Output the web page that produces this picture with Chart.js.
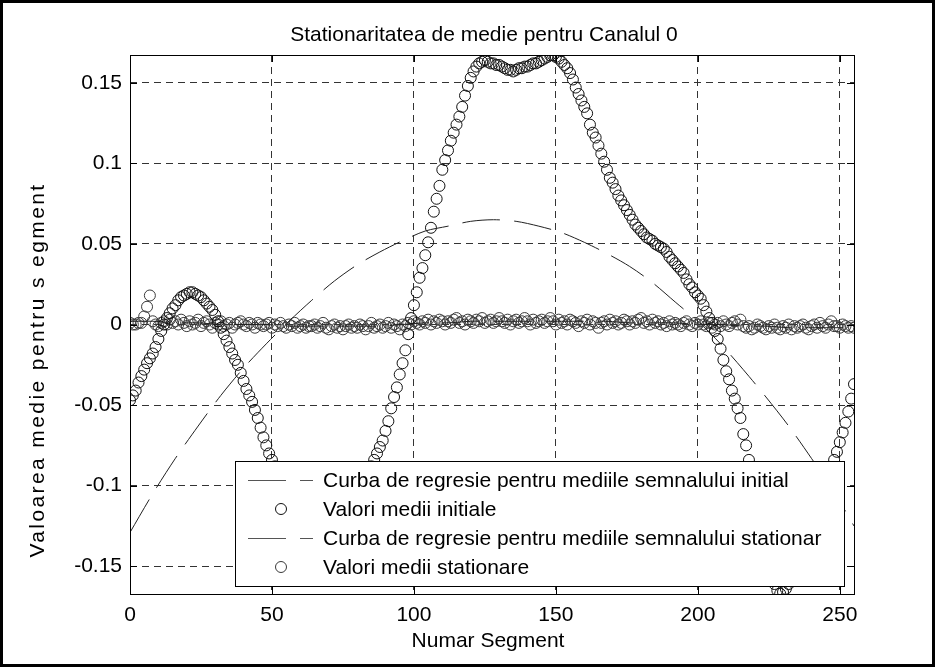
<!DOCTYPE html>
<html>
<head>
<meta charset="utf-8">
<script src="https://cdn.jsdelivr.net/npm/chart.js@4.4.0/dist/chart.umd.min.js"></script>
<style>
  html, body { margin: 0; padding: 0; background: #fff; }
  #c { display: block; }
</style>
</head>
<body>
<canvas id="c" width="935" height="667"></canvas>
<script>
// Mean value per segment (0..255)
const initialMeans = [
  -0.047,-0.044,-0.041,-0.036,-0.032,-0.028,-0.024,-0.021,-0.018,-0.014,-0.009,-0.004, 0.000, 0.004, 0.007, 0.010,
   0.012, 0.015, 0.017, 0.018, 0.019, 0.020, 0.020, 0.019, 0.018, 0.017, 0.015, 0.013, 0.011, 0.009, 0.006, 0.002,
  -0.002,-0.006,-0.010,-0.014,-0.018,-0.022,-0.025,-0.030,-0.035,-0.040,-0.044,-0.048,-0.053,-0.058,-0.064,-0.070,
  -0.075,-0.080,-0.084,-0.088,-0.092,-0.096,-0.100,-0.104,-0.108,-0.112,-0.115,-0.119,-0.122,-0.125,-0.128,-0.130,
  -0.132,-0.134,-0.136,-0.137,-0.138,-0.139,-0.139,-0.138,-0.137,-0.135,-0.133,-0.130,-0.127,-0.124,-0.120,-0.116,
  -0.112,-0.107,-0.102,-0.097,-0.092,-0.088,-0.084,-0.080,-0.076,-0.072,-0.066,-0.060,-0.052,-0.045,-0.039,-0.031,
  -0.024,-0.016,-0.006, 0.004, 0.012, 0.020, 0.029, 0.035, 0.043, 0.051, 0.060, 0.070, 0.078, 0.086, 0.096, 0.102,
   0.108, 0.114, 0.119, 0.124, 0.129, 0.135, 0.142, 0.148, 0.153, 0.157, 0.160, 0.162, 0.163, 0.164, 0.163, 0.162,
   0.162, 0.161, 0.161, 0.160, 0.159, 0.158, 0.158, 0.157, 0.158, 0.159, 0.159, 0.160, 0.160, 0.161, 0.162, 0.162,
   0.163, 0.164, 0.165, 0.166, 0.167, 0.167, 0.166, 0.165, 0.163, 0.161, 0.159, 0.156, 0.152, 0.147, 0.143, 0.139,
   0.135, 0.131, 0.124, 0.119, 0.116, 0.111, 0.106, 0.101, 0.096, 0.091, 0.088, 0.084, 0.080, 0.077, 0.074, 0.071,
   0.068, 0.065, 0.062, 0.060, 0.058, 0.056, 0.054, 0.053, 0.052, 0.050, 0.049, 0.048, 0.047, 0.045, 0.042, 0.040,
   0.038, 0.036, 0.034, 0.032, 0.028, 0.025, 0.023, 0.020, 0.018, 0.016, 0.012, 0.008, 0.004, 0.001,-0.004,-0.009,
  -0.015,-0.022,-0.029,-0.034,-0.041,-0.046,-0.052,-0.058,-0.068,-0.075,-0.084,-0.093,-0.102,-0.111,-0.120,-0.129,
  -0.138,-0.147,-0.155,-0.161,-0.165,-0.167,-0.166,-0.164,-0.161,-0.158,-0.154,-0.149,-0.144,-0.139,-0.134,-0.129,
  -0.124,-0.119,-0.114,-0.109,-0.104,-0.099,-0.094,-0.089,-0.084,-0.079,-0.073,-0.067,-0.061,-0.054,-0.046,-0.037
];

const stationaryMeans = [
   0.001, 0.000, 0.000, 0.001, 0.001, 0.005, 0.011, 0.018, 0.002, 0.000,-0.001, 0.001, 0.002, 0.000, 0.003, 0.001,
   0.002, 0.000, 0.003, 0.001,-0.001, 0.002, 0.000, 0.001, 0.003,-0.001, 0.001, 0.002, 0.000,-0.002, 0.001, 0.000,
   0.002,-0.001, 0.000, 0.001,-0.002, 0.000, 0.001, 0.002, 0.000,-0.001, 0.001, 0.000,-0.002, 0.001, 0.000,-0.001,
   0.000, 0.001,-0.002, 0.000,-0.001, 0.001,-0.001,-0.002, 0.000,-0.001, 0.001,-0.002,-0.001, 0.000,-0.002,-0.001,
  -0.001, 0.000,-0.002,-0.001, 0.001,-0.002,-0.003,-0.001, 0.000,-0.002,-0.001,-0.003,-0.001, 0.000,-0.002,-0.001,
  -0.002, 0.000,-0.001,-0.003,-0.001, 0.001,-0.002,-0.001, 0.000,-0.002,-0.001, 0.001,-0.002, 0.000,-0.001,-0.003,
   0.000,-0.001, 0.001, 0.000, 0.002, 0.001, 0.000, 0.002, 0.001, 0.003, 0.000, 0.002, 0.001, 0.003, 0.002, 0.000,
   0.002, 0.001, 0.003, 0.004, 0.001, 0.002, 0.000, 0.003, 0.002, 0.001, 0.003, 0.002, 0.004, 0.001, 0.002, 0.003,
   0.001, 0.002, 0.004, 0.002, 0.001, 0.003, 0.000, 0.002, 0.003, 0.001, 0.002, 0.004, 0.002, 0.000, 0.003, 0.001,
   0.002, 0.003, 0.001, 0.002, 0.004, 0.002, 0.000, 0.003, 0.001, 0.002, 0.000, 0.003, 0.002, 0.001,-0.001, 0.002,
   0.001, 0.003, 0.000, 0.002, 0.001,-0.002, 0.001, 0.002, 0.000, 0.003, 0.001, 0.002, 0.000, 0.001, 0.003, 0.002,
   0.000, 0.002, 0.001, 0.003, 0.004, 0.001, 0.002, 0.000, 0.003, 0.001, 0.002, 0.000, 0.001,-0.001, 0.002, 0.000,
   0.001, 0.000,-0.001, 0.001, 0.002, 0.000,-0.001, 0.001, 0.000, 0.002, 0.000,-0.001, 0.001,-0.002, 0.000, 0.001,
  -0.001, 0.002, 0.000,-0.001, 0.001, 0.002, 0.000, 0.003,-0.001,-0.002,-0.001,-0.003,-0.002, 0.000,-0.001,-0.002,
  -0.003,-0.001,-0.002, 0.000,-0.002,-0.003,-0.001,-0.002, 0.000,-0.003,-0.001,-0.002,-0.001, 0.000,-0.002,-0.003,
  -0.001, 0.000,-0.002, 0.001,-0.001,-0.002, 0.000, 0.002,-0.001,-0.001,-0.002, 0.000,-0.001,-0.002,-0.001,-0.002
];

// regression curves, sampled along the x axis
const regX = [0, 8, 16, 24, 32, 40, 48, 56, 64, 72, 80, 88, 96, 104, 112, 120, 128,
              136, 144, 152, 160, 168, 176, 184, 192, 200, 208, 216, 224, 232, 240, 248, 255];
const regInitial = [-0.129, -0.105, -0.083, -0.063, -0.044, -0.027, -0.012, 0.002, 0.015, 0.027, 0.037,
                    0.045, 0.052, 0.058, 0.061, 0.064, 0.065, 0.064, 0.061, 0.057, 0.051, 0.044, 0.036,
                    0.026, 0.014, 0.002, -0.012, -0.028, -0.045, -0.063, -0.083, -0.104, -0.125];
const regStationary = [0.002, 0.002, 0.001, 0.001, 0.000, 0.000, 0.000, -0.001, -0.001, -0.001, -0.001,
                       -0.001, 0.000, 0.001, 0.001, 0.002, 0.002, 0.002, 0.002, 0.002, 0.002, 0.002, 0.001,
                       0.001, 0.001, 0.000, 0.000, -0.001, -0.001, -0.002, -0.002, -0.002, -0.002];

const xTicks = [0, 50, 100, 150, 200, 250];
const yTicks = [-0.15, -0.1, -0.05, 0, 0.05, 0.1, 0.15];

const labels = [
  'Curba de regresie pentru mediile semnalului initial',
  'Valori medii initiale',
  'Curba de regresie pentru mediile semnalului stationar',
  'Valori medii stationare'
];

const FONT = "'Liberation Sans', Arial, sans-serif";
const DASH = [38, 14];

function pts(xs, ys) { return ys.map((v, i) => ({ x: xs ? xs[i] : i, y: v })); }

const decor = {
  id: 'decor',
  beforeDraw(chart) {
    const ctx = chart.ctx;
    ctx.save();
    ctx.fillStyle = '#fff';
    ctx.fillRect(0, 0, chart.width, chart.height);
    ctx.restore();
  },
  afterDatasetsDraw(chart) {
    const { ctx, chartArea: a, scales: { x, y } } = chart;
    ctx.save();
    ctx.setLineDash([]);
    ctx.strokeStyle = '#000';
    ctx.lineWidth = 1;

    // inward tick marks on all four sides
    const TL = 7;
    ctx.beginPath();
    xTicks.forEach(v => {
      const px = Math.round(x.getPixelForValue(v)) + 0.5;
      ctx.moveTo(px, a.bottom); ctx.lineTo(px, a.bottom - TL);
      ctx.moveTo(px, a.top); ctx.lineTo(px, a.top + TL);
    });
    yTicks.forEach(v => {
      const py = Math.round(y.getPixelForValue(v)) + 0.5;
      ctx.moveTo(a.left, py); ctx.lineTo(a.left + TL, py);
      ctx.moveTo(a.right, py); ctx.lineTo(a.right - TL, py);
    });
    ctx.stroke();

    // axes box
    ctx.strokeRect(Math.round(a.left) + 0.5, Math.round(a.top) + 0.5,
                   Math.round(a.width), Math.round(a.height));

    // legend box
    const lx = 235, ly = 461, lw = 609, lh = 125;
    ctx.fillStyle = '#fff';
    ctx.fillRect(lx, ly, lw, lh);
    ctx.strokeRect(lx + 0.5, ly + 0.5, lw, lh);
    ctx.font = '21px ' + FONT;
    ctx.textBaseline = 'middle';
    ctx.textAlign = 'left';
    chart.data.datasets.forEach((ds, i) => {
      const cy = ly + 19 + i * 29;
      if (ds.showLine) {
        ctx.save();
        ctx.strokeStyle = '#555';
        ctx.setLineDash(DASH);
        ctx.beginPath();
        ctx.moveTo(248, cy + 0.5); ctx.lineTo(313, cy + 0.5);
        ctx.stroke();
        ctx.restore();
      } else {
        ctx.beginPath();
        ctx.strokeStyle = ds.borderColor;
        ctx.arc(281, cy, 5.5, 0, Math.PI * 2);
        ctx.stroke();
      }
      ctx.fillStyle = '#000';
      ctx.fillText(ds.label, 323, cy + 1);
    });

    // titles
    ctx.fillStyle = '#000';
    ctx.textAlign = 'center';
    ctx.fillText('Stationaritatea de medie pentru Canalul 0', 484, 35);
    ctx.fillText('Numar Segment', 488, 641);
    ctx.save();
    ctx.translate(38, 370);
    ctx.rotate(-Math.PI / 2);
    ctx.letterSpacing = '2.4px';
    ctx.fillText('Valoarea medie pentru s egment', 0, 0);
    ctx.restore();

    // outer frame
    ctx.lineWidth = 3;
    ctx.strokeStyle = '#000';
    ctx.strokeRect(1.5, 1.5, 932, 664);
    ctx.restore();
  }
};

new Chart(document.getElementById('c'), {
  type: 'scatter',
  data: {
    datasets: [
      {
        label: labels[0], data: pts(regX, regInitial), showLine: true, tension: 0.3,
        borderColor: '#222', borderWidth: 1, borderDash: DASH, pointRadius: 0, fill: false
      },
      {
        label: labels[1], data: pts(null, initialMeans), showLine: false,
        pointRadius: 5.5, borderWidth: 1, borderColor: '#111', backgroundColor: 'rgba(0,0,0,0)'
      },
      {
        label: labels[2], data: pts(regX, regStationary), showLine: true, tension: 0.3,
        borderColor: '#222', borderWidth: 1, borderDash: DASH, pointRadius: 0, fill: false
      },
      {
        label: labels[3], data: pts(null, stationaryMeans), showLine: false,
        pointRadius: 5.5, borderWidth: 1, borderColor: '#3a3a3a', backgroundColor: 'rgba(0,0,0,0)'
      }
    ]
  },
  options: {
    responsive: false,
    animation: false,
    events: [],
    layout: { padding: { top: 55, right: 81, bottom: 0, left: 0 } },
    plugins: { legend: { display: false }, tooltip: { enabled: false }, title: { display: false } },
    scales: {
      x: {
        type: 'linear', min: 0, max: 255,
        afterFit(s) { s.height = 73; },
        afterBuildTicks(s) { s.ticks = xTicks.map(v => ({ value: v })); },
        ticks: { font: { family: FONT, size: 21 }, color: '#000', padding: 9, maxRotation: 0, autoSkip: false },
        grid: { color: '#333', lineWidth: 1, drawTicks: false },
        border: { display: false, dash: [7, 5] }
      },
      y: {
        type: 'linear', min: -0.1672, max: 0.1672,
        afterFit(s) { s.width = 130; },
        afterBuildTicks(s) { s.ticks = yTicks.map(v => ({ value: v })); },
        ticks: { font: { family: FONT, size: 21 }, color: '#000', padding: 8, callback: v => String(v) },
        grid: { color: '#333', lineWidth: 1, drawTicks: false },
        border: { display: false, dash: [7, 5] }
      }
    }
  },
  plugins: [decor]
});
</script>
</body>
</html>
